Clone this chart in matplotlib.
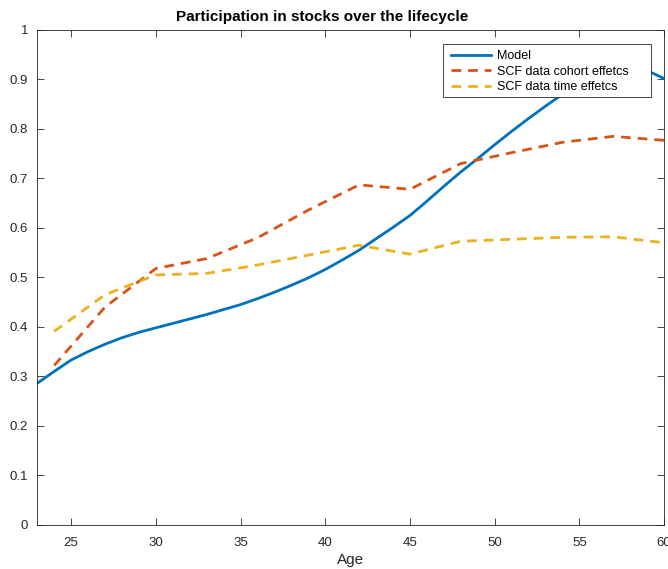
"""Participation in stocks over the lifecycle: model vs SCF data."""

import matplotlib
matplotlib.use('Agg')
import matplotlib.pyplot as plt
from matplotlib.patches import Rectangle
import numpy as np

plt.rcParams['font.family'] = ['Liberation Sans', 'DejaVu Sans']

# model, yearly
model_age = np.arange(23, 61)
model_part = [0.286, 0.310, 0.333, 0.350, 0.365, 0.378, 0.389, 0.398, 0.407, 0.416,
              0.425, 0.435, 0.445, 0.457, 0.470, 0.484, 0.499, 0.516, 0.535, 0.555,
              0.578, 0.601, 0.625, 0.654, 0.684, 0.713, 0.740, 0.768, 0.795, 0.821,
              0.846, 0.870, 0.891, 0.908, 0.920, 0.925, 0.918, 0.902]

# SCF data, every 3 years
scf_age = [24, 27, 30, 33, 36, 39, 42, 45, 48, 51, 54, 57, 60]
cohort_part = [0.322, 0.440, 0.518, 0.538, 0.580, 0.636, 0.687, 0.678, 0.730,
               0.752, 0.773, 0.785, 0.777]
time_part = [0.391, 0.465, 0.505, 0.508, 0.525, 0.545, 0.565, 0.547, 0.573,
             0.577, 0.581, 0.582, 0.570]

BLUE = '#0072BD'
ORANGE = '#D95319'
YELLOW = '#EDB120'
DARK = '#262626'

W, H = 668, 569
fig = plt.figure(figsize=(W / 100, H / 100), dpi=100)
ax = fig.add_axes([0.0558, 0.0777, 0.9382, 0.8696])

ax.plot(model_age, model_part, color=BLUE, lw=2.0, label='Model')
ax.plot(scf_age, cohort_part, color=ORANGE, lw=2.0, ls=(0, (3.5, 2.5)),
        label='SCF data cohort effetcs')
ax.plot(scf_age, time_part, color=YELLOW, lw=2.0, ls=(0, (3.5, 2.5)),
        label='SCF data time effetcs')

ax.set_xlim(23, 60)
ax.set_ylim(0, 1)
ax.set_xticks(np.arange(25, 61, 5))
ax.set_yticks(np.arange(0, 1.01, 0.1))
ax.set_yticklabels(['0', '0.1', '0.2', '0.3', '0.4', '0.5', '0.6', '0.7', '0.8',
                    '0.9', '1'])

ax.tick_params(direction='in', length=5, width=0.6, top=True, right=True,
               labelsize=9.5, colors=DARK)
ax.tick_params(axis='x', pad=8.5)
ax.tick_params(axis='y', pad=6.5)
for s in ax.spines.values():
    s.set_color(DARK)
    s.set_linewidth(0.6)

ax.set_xlabel('Age', fontsize=11, color=DARK, labelpad=3)
fig.text(322 / W, 1 - 17 / H, 'Participation in stocks over the lifecycle',
         fontsize=11, fontweight='bold', ha='center', va='center')

# legend box drawn by hand (MATLAB style, extra room on the right)
box = Rectangle((443 / W, 1 - 97 / H), 208 / W, 53 / H,
                transform=fig.transFigure, facecolor='white',
                edgecolor=DARK, lw=0.6, zorder=5, clip_on=False)
ax.add_artist(box)
leg = ax.legend(loc='upper left', bbox_to_anchor=(451 / W, 1 - 50 / H),
                bbox_transform=fig.transFigure, fontsize=9, frameon=False,
                borderaxespad=0, borderpad=0, handlelength=3.2,
                handletextpad=0.45, labelspacing=0.3)
leg.set_zorder(6)

fig.savefig('out.png', dpi=100)
